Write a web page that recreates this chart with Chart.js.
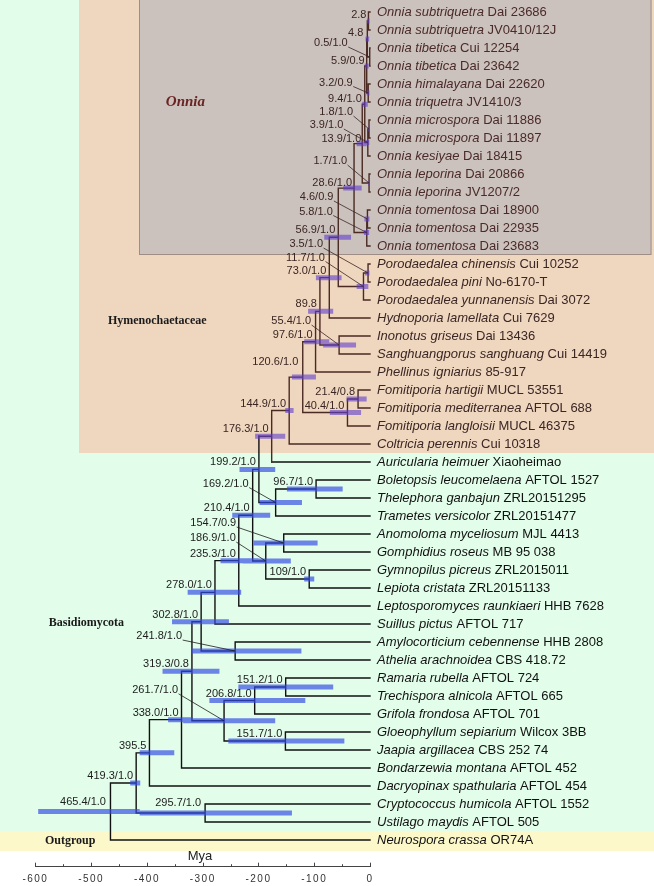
<!DOCTYPE html>
<html><head><meta charset="utf-8">
<script src="https://cdn.jsdelivr.net/npm/chart.js@4.4.1/dist/chart.umd.min.js"></script>
<style>html,body{margin:0;padding:0;background:#fff}canvas{display:block}</style>
</head><body>
<canvas id="c" width="654" height="886"></canvas>
<script>
// ---------------- DATA ----------------
const leafTaxa = [
 'Onnia subtriquetra','Onnia subtriquetra','Onnia tibetica','Onnia tibetica','Onnia himalayana',
 'Onnia triquetra','Onnia microspora','Onnia microspora','Onnia kesiyae','Onnia leporina',
 'Onnia leporina','Onnia tomentosa','Onnia tomentosa','Onnia tomentosa','Porodaedalea chinensis',
 'Porodaedalea pini','Porodaedalea yunnanensis','Hydnoporia lamellata','Inonotus griseus','Sanghuangporus sanghuang',
 'Phellinus igniarius','Fomitiporia hartigii','Fomitiporia mediterranea','Fomitiporia langloisii','Coltricia perennis',
 'Auricularia heimuer','Boletopsis leucomelaena','Thelephora ganbajun','Trametes versicolor','Anomoloma myceliosum',
 'Gomphidius roseus','Gymnopilus picreus','Lepiota cristata','Leptosporomyces raunkiaeri','Suillus pictus',
 'Amylocorticium cebennense','Athelia arachnoidea','Ramaria rubella','Trechispora alnicola','Grifola frondosa',
 'Gloeophyllum sepiarium','Jaapia argillacea','Bondarzewia montana','Dacryopinax spathularia','Cryptococcus humicola',
 'Ustilago maydis','Neurospora crassa'
];
const leafVouchers = [
 'Dai 23686','JV0410/12J','Cui 12254','Dai 23642','Dai 22620',
 'JV1410/3','Dai 11886','Dai 11897','Dai 18415','Dai 20866',
 'JV1207/2','Dai 18900','Dai 22935','Dai 23683','Cui 10252',
 'No-6170-T','Dai 3072','Cui 7629','Dai 13436','Cui 14419',
 '85-917','MUCL 53551','AFTOL 688','MUCL 46375','Cui 10318',
 'Xiaoheimao','AFTOL 1527','ZRL20151295','ZRL20151477','MJL 4413',
 'MB 95 038','ZRL2015011','ZRL20151133','HHB 7628','AFTOL 717',
 'HHB 2808','CBS 418.72','AFTOL 724','AFTOL 665','AFTOL 701',
 'Wilcox 3BB','CBS 252 74','AFTOL 452','AFTOL 454','AFTOL 1552',
 'AFTOL 505','OR74A'
];
// internal nodes (post-order): label, age (Mya), children, 95% HPD
const nodeLabels = [
 '2.8','0.5/1.0','4.8','3.2/0.9','5.9/0.9','1.8/1.0','3.9/1.0','9.4/1.0','1.7/1.0','13.9/1.0',
 '4.6/0.9','5.8/1.0','28.6/1.0','3.5/1.0','11.7/1.0','56.9/1.0','73.0/1.0','55.4/1.0','89.8','97.6/1.0',
 '21.4/0.8','40.4/1.0','120.6/1.0','144.9/1.0','176.3/1.0','96.7/1.0','169.2/1.0','199.2/1.0','154.7/0.9','109/1.0',
 '186.9/1.0','210.4/1.0','235.3/1.0','278.0/1.0','241.8/1.0','302.8/1.0','151.2/1.0','206.8/1.0','151.7/1.0','261.7/1.0',
 '319.3/0.8','338.0/1.0','395.5','295.7/1.0','419.3/1.0','465.4/1.0'
];
const nodeAges = [
 2.8,0.5,4.8,3.2,5.9,1.8,3.9,9.4,1.7,13.9,
 4.6,5.8,28.6,3.5,11.7,56.9,73.0,55.4,89.8,97.6,
 21.4,40.4,120.6,144.9,176.3,96.7,169.2,199.2,154.7,109,
 186.9,210.4,235.3,278.0,241.8,302.8,151.2,206.8,151.7,261.7,
 319.3,338.0,395.5,295.7,419.3,465.4
];
const nodeChildren = [
 ['L0','L1'],['L2','L3'],['N0','N1'],['L4','L5'],['N2','N3'],['L6','L7'],['N5','L8'],['N4','N6'],['L9','L10'],['N7','N8'],
 ['L11','L12'],['N10','L13'],['N9','N11'],['L14','L15'],['N13','L16'],['N12','N14'],['N15','L17'],['L18','L19'],['N16','N17'],['N18','L20'],
 ['L21','L22'],['N20','L23'],['N19','N21'],['N22','L24'],['N23','L25'],['L26','L27'],['N25','L28'],['N24','N26'],['L29','L30'],['L31','L32'],
 ['N28','N29'],['N27','N30'],['N31','L33'],['N32','L34'],['L35','L36'],['N33','N34'],['L37','L38'],['N36','L39'],['L40','L41'],['N37','N38'],
 ['N35','N39'],['N40','L42'],['N41','L43'],['L44','L45'],['N42','N43'],['N44','L46']
];
const hpdYoung = [
 1.0,0.1,1.5,1.0,2.5,0.5,1.2,4,0.4,6,
 1,1.5,15,1,3,34,51,25,66,73,
 6,16,97,137,152,49,122,170,94,100,
 142,179,200,231,123,253,66,116,46,170,
 270,318,351,140,412,413
];
const hpdOld = [
 5.5,1.5,8,6,9.5,3.5,7,14,3.5,24,
 10,11,48,9,24,82,97,84,111,118,
 42,72,140,152,206,149,198,234,209,118,
 228,247,268,327,320,355,236,288,254,335,
 372,362,413,413,430,595
];
const axisTickLabels = [-600,-500,-400,-300,-200,-100,0];
const axisTitle = 'Mya';
const cladeNames = ['Onnia','Hymenochaetaceae','Basidiomycota','Outgroup'];

// ---------------- LAYOUT / STYLE ----------------
const W = 654, H = 886;
const hymenoLastLeaf = 24, hymenoLastNode = 24;
const colHymeno = '#4a2a22', colBasidio = '#111111';
const labelFont = '11px "Liberation Sans", Arial, sans-serif';
const leafFont = 13;
// label placement: [dx of right edge from node, dy of text centre from node, leader?]
const labelPlacement = {
 0:[-2,-6],2:[-4,-6],4:[-2,-5],7:[-3,-5],9:[-1,-5],12:[-2,-5],
 1:[-22,-14,1],3:[-15.5,-10.5,1],5:[-16,-17,1],6:[-24.5,-17.5,1],8:[-22,-22,1],
 10:[-34,-22,1],11:[-34,-21,1],13:[-45,-29,1],14:[-38.5,-29,1],17:[-28,-24,1],
 22:[-4.5,-15],26:[-27,-19,1],28:[-47.5,-20,1],30:[-30,-23,1],34:[-53,-15,1],39:[-46,-31,1],
 43:[-4,-10],45:[-4.5,-10]
};
const regionStyle = [
 {fromAge:null, toRow:45.5, fill:'#e2fde9'},
 {fromAge:-521, toRow:24.5, fill:'#efd6bf'},
 {fromAge:-414, toRow:13.5, fill:'#ccc2bd', stroke:'#9e8c85', right:651.5},
 {fromAge:null, fromRow:45.5, toRow:46.62, fill:'#fcf8c9'}
];
const regionLabelPos = [
 {age:-331, row:5.0, font:'italic bold 15px "Liberation Serif", serif', color:'#6a2424', align:'center'},
 {age:-470, row:17.15, font:'bold 12px "Liberation Serif", serif', color:'#1a1a1a', align:'left'},
 {age:-576, row:33.95, font:'bold 12px "Liberation Serif", serif', color:'#1a1a1a', align:'left'},
 {age:-583, row:46.05, font:'bold 12px "Liberation Serif", serif', color:'#1a1a1a', align:'left'}
];

// ---------------- DERIVED GEOMETRY ----------------
const nodeRow = [];
const refRow = r => r[0]==='L' ? +r.slice(1) : nodeRow[+r.slice(1)];
const refAge = r => r[0]==='L' ? 0 : nodeAges[+r.slice(1)];
const refHymeno = r => r[0]==='L' ? +r.slice(1) <= hymenoLastLeaf : +r.slice(1) <= hymenoLastNode;
nodeChildren.forEach((k,i)=>{ nodeRow[i] = (refRow(k[0]) + refRow(k[k.length-1]))/2; });

const brH = [], brB = [], hpdH = [], hpdB = [];
const gap = {x:null, y:null};
nodeChildren.forEach((kids,i)=>{
  const px = -nodeAges[i];
  const vert = nodeRow[i] !== undefined ? (i <= hymenoLastNode ? brH : brB) : brB;
  vert.push({x:px, y:refRow(kids[0])}, {x:px, y:refRow(kids[kids.length-1])}, gap);
  kids.forEach(k=>{
    const arr = refHymeno(k) ? brH : brB;
    arr.push({x:px, y:refRow(k)}, {x:-refAge(k), y:refRow(k)}, gap);
  });
  const h = i <= hymenoLastNode ? hpdH : hpdB;
  h.push({x:-hpdOld[i], y:nodeRow[i]}, {x:-hpdYoung[i], y:nodeRow[i]}, gap);
});

// ---------------- PLUGINS ----------------
const backdrop = {
  id:'backdrop',
  beforeDraw(chart){
    const {ctx} = chart, xs = chart.scales.x, ys = chart.scales.y;
    ctx.save();
    ctx.fillStyle = '#fff'; ctx.fillRect(0,0,W,H);
    regionStyle.forEach(r=>{
      const x0 = r.fromAge===null ? 0 : Math.round(xs.getPixelForValue(r.fromAge));
      const y0 = r.fromRow===undefined ? 0 : Math.round(ys.getPixelForValue(r.fromRow));
      const y1 = Math.round(ys.getPixelForValue(r.toRow));
      const x1 = r.right || W;
      ctx.fillStyle = r.fill; ctx.fillRect(x0,y0,x1-x0,y1-y0);
      if (r.stroke){ ctx.strokeStyle = r.stroke; ctx.lineWidth = 1; ctx.strokeRect(x0+0.5,y0-0.5,x1-x0-1,y1-y0); }
    });
    ctx.textBaseline = 'middle';
    regionLabelPos.forEach((p,i)=>{
      ctx.font = p.font; ctx.fillStyle = p.color; ctx.textAlign = p.align;
      ctx.fillText(cladeNames[i], xs.getPixelForValue(p.age), ys.getPixelForValue(p.row));
    });
    ctx.restore();
    ctx.letterSpacing = '1.5px';
  },
  beforeDatasetsDraw(chart){ chart.ctx.letterSpacing = '0px'; },
  afterDraw(chart){
    const {ctx} = chart, xs = chart.scales.x, ys = chart.scales.y;
    ctx.save();
    ctx.letterSpacing = '0px';
    // inward tick marks on the time axis
    const yb = chart.chartArea.bottom;
    ctx.strokeStyle = '#444'; ctx.lineWidth = 1;
    xs.ticks.forEach(t=>{
      const px = Math.round(xs.getPixelForValue(t.value)) + 0.5;
      const len = axisTickLabels.includes(t.value) ? 4 : 2.5;
      ctx.beginPath(); ctx.moveTo(px, yb); ctx.lineTo(px, yb - len); ctx.stroke();
    });
    // axis title
    ctx.font = '13px "Liberation Sans", Arial, sans-serif'; ctx.fillStyle = '#222';
    ctx.textAlign = 'center'; ctx.textBaseline = 'middle';
    ctx.fillText(axisTitle, xs.getPixelForValue(-305), yb - 10);
    // node labels
    ctx.font = labelFont; ctx.textAlign = 'right';
    nodeLabels.forEach((lab,i)=>{
      const nx = xs.getPixelForValue(-nodeAges[i]), ny = ys.getPixelForValue(nodeRow[i]);
      const pl = labelPlacement[i] || [-3,-7];
      const rx = nx + pl[0], cy = ny + pl[1];
      const c = i <= hymenoLastNode ? '#3a2522' : '#1c1c1c';
      ctx.fillStyle = c;
      ctx.fillText(lab, rx, cy);
      if (pl[2]){
        ctx.strokeStyle = c; ctx.lineWidth = 0.8;
        ctx.beginPath(); ctx.moveTo(rx + 0.5, cy + 4); ctx.lineTo(nx, ny); ctx.stroke();
      }
    });
    // leaf labels
    const lx = xs.getPixelForValue(0) + 7;
    leafTaxa.forEach((name,i)=>{
      const y = ys.getPixelForValue(i);
      ctx.textAlign = 'left';
      ctx.fillStyle = i <= 13 ? '#4a2a2a' : (i <= hymenoLastLeaf ? '#3a2624' : '#111');
      ctx.font = 'italic ' + leafFont + 'px "Liberation Sans", Arial, sans-serif';
      ctx.fillText(name, lx, y);
      const w = ctx.measureText(name + ' ').width;
      ctx.font = leafFont + 'px "Liberation Sans", Arial, sans-serif';
      ctx.fillText(leafVouchers[i], lx + w, y);
    });
    ctx.restore();
  }
};

// ---------------- CHART ----------------
new Chart(document.getElementById('c'), {
  type:'line',
  data:{ datasets:[
    {label:'HPD Hymenochaetaceae', data:hpdH, borderColor:'rgba(95,60,205,0.6)', borderWidth:5, borderCapStyle:'butt', order:0},
    {label:'HPD others', data:hpdB, borderColor:'rgba(50,75,230,0.68)', borderWidth:5, borderCapStyle:'butt', order:0},
    {label:'Branches Hymenochaetaceae', data:brH, borderColor:colHymeno, borderWidth:1.4, order:1},
    {label:'Branches others', data:brB, borderColor:colBasidio, borderWidth:1.4, order:2}
  ]},
  options:{
    responsive:false, animation:false, devicePixelRatio:1,
    layout:{padding:{left:35.4, right:W-370, top:0, bottom:0}},
    elements:{point:{radius:0, hoverRadius:0}, line:{tension:0, fill:false, borderCapStyle:'square'}},
    datasets:{line:{spanGaps:false, clip:false, pointRadius:0}},
    plugins:{legend:{display:false}, tooltip:{enabled:false}},
    events:[],
    scales:{
      x:{type:'linear', min:-600, max:0, position:'bottom',
        grid:{display:false, drawTicks:false},
        border:{display:true, color:'#444', width:1},
        ticks:{stepSize:50, autoSkip:false, maxRotation:0, padding:7, color:'#333',
          font:{family:'"Liberation Sans", Arial, sans-serif', size:10},
          callback:v => axisTickLabels.includes(v) ? String(v) : ''},
        afterFit(s){ s.height = H - 866.7; }
      },
      y:{type:'linear', display:false, reverse:true, min:-2/3, max:47.48}
    }
  },
  plugins:[backdrop]
});
</script>
</body></html>
